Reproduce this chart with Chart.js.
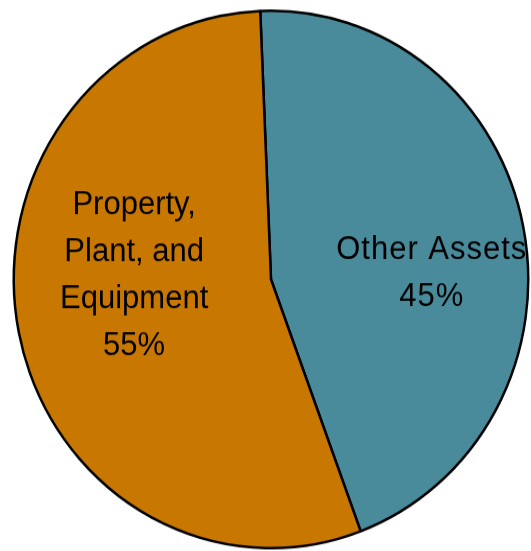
<!DOCTYPE html>
<html>
<head>
<meta charset="utf-8">
<script src="https://cdn.jsdelivr.net/npm/chart.js@4.4.1/dist/chart.umd.min.js"></script>
<style>
  html, body { margin: 0; padding: 0; background: #ffffff; width: 531px; height: 551px; overflow: hidden; }
  #outer { position: relative; width: 531px; height: 551px; overflow: visible; }
  #wrap { position: absolute; left: 0; top: 0; width: 531px; height: 528px; transform-origin: 0 0; transform: scaleY(1.0445); }
  canvas { display: block; }
</style>
</head>
<body>
<div id="outer"><div id="wrap"><canvas id="c" width="531" height="528"></canvas></div></div>
<script>
const categories = ["Other Assets", "Property, Plant, and Equipment"];
const labelLines = [["Other Assets", "45%"], ["Property,", "Plant, and", "Equipment", "55%"]];
const values = [45, 55];
const colors = ["#4A8B9B", "#C87800"];
// label anchor offsets, as fractions of the radius from the pie centre
const labelOffsetX = [0.625, -0.532];
const labelOffsetY = [-0.02, -0.015];
const labelSpacing = ["1px", "0px"];

const labelPlugin = {
  id: 'sliceLabels',
  afterDatasetsDraw(chart) {
    const ctx = chart.ctx;
    const meta = chart.getDatasetMeta(0);
    ctx.save();
    ctx.font = '31px "Liberation Sans", Arial, sans-serif';
    ctx.fillStyle = '#000000';
    ctx.textAlign = 'center';
    ctx.textBaseline = 'middle';
    const lh = 45;
    meta.data.forEach((arc, i) => {
      const r = arc.outerRadius;
      const cx = arc.x + labelOffsetX[i] * r;
      const cy = arc.y + labelOffsetY[i] * r;
      const lines = labelLines[i];
      if ('letterSpacing' in ctx) ctx.letterSpacing = labelSpacing[i];
      const top = cy - (lines.length - 1) * lh / 2;
      lines.forEach((t, k) => ctx.fillText(t, cx, top + k * lh));
    });
    ctx.restore();
  }
};

new Chart(document.getElementById('c'), {
  type: 'pie',
  data: {
    labels: categories,
    datasets: [{
      data: values,
      backgroundColor: colors,
      borderColor: '#000000',
      borderWidth: 2.5,
      hoverOffset: 0
    }]
  },
  options: {
    responsive: false,
    animation: false,
    devicePixelRatio: 1,
    rotation: -2.4,
    layout: { padding: { left: 12, right: 1, top: 9, bottom: 2 } },
    plugins: {
      legend: { display: false },
      tooltip: { enabled: false },
      title: { display: false }
    }
  },
  plugins: [labelPlugin]
});
</script>
</body>
</html>
